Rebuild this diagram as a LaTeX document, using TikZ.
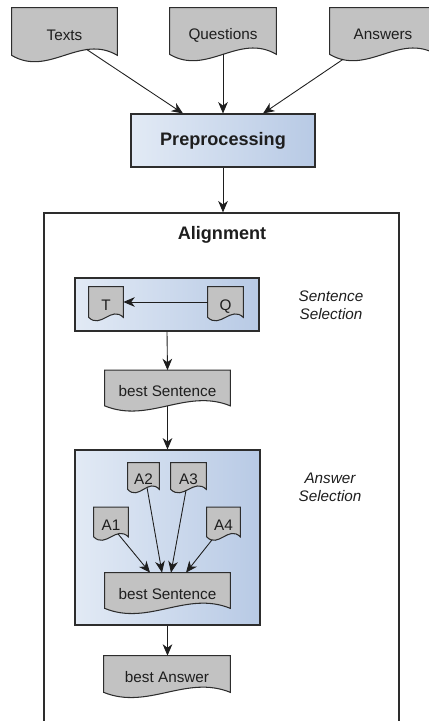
\documentclass[tikz,border=0pt]{standalone}
\usepackage{fontspec}
\setmainfont{Liberation Sans}
\usetikzlibrary{arrows.meta,calc,backgrounds}
\definecolor{docgray}{RGB}{194,194,194}
\definecolor{boxlight}{RGB}{226,234,245}
\definecolor{boxdark}{RGB}{184,202,229}
\definecolor{edge}{RGB}{45,45,45}
\definecolor{ink}{RGB}{30,30,30}
\pgfdeclarelayer{boxes}
\pgfsetlayers{boxes,background,main}
\newcommand{\px}{0.02cm}
\tikzset{
  doc/.style 2 args={minimum width=#1*\px, minimum height=#2*\px, inner sep=0pt,
    text height=10.2pt, text depth=0pt, text=ink, font=\fontsize{8.7}{10}\selectfont},
  docline/.style={fill=docgray, draw=edge, line width=0.6pt},
  gradbox/.style={draw=edge, line width=0.6pt, left color=boxlight, right color=boxdark,
    inner sep=0pt, text=ink, font=\fontsize{10.3}{12}\selectfont\bfseries},
  outerbox/.style={draw=edge, line width=0.7pt, fill=white, inner sep=0pt},
  note/.style={align=center, text=ink, font=\fontsize{8.7}{10.2}\selectfont\itshape},
  title/.style={text=ink, font=\fontsize{10.3}{12}\selectfont\bfseries},
  arr/.style={-{Stealth[length=6.5pt,width=5.5pt,inset=2pt]}, draw=ink, line width=0.5pt}
}

\begin{document}
\begin{tikzpicture}[x=\px,y=-\px]
\useasboundingbox (0,0) rectangle (429,721);

% frames
\begin{pgfonlayer}{boxes}
  \node[outerbox, minimum width=355*\px, minimum height=534*\px] (align) at (221.5,480) {};
  \node[gradbox, minimum width=184*\px, minimum height=53*\px] (prep) at (223,140.5) {Preprocessing};
  \node[gradbox, minimum width=184*\px, minimum height=53*\px] (sentsel) at (167,304.5) {};
  \node[gradbox, minimum width=185*\px, minimum height=175*\px] (anssel) at (167.5,537.5) {};
\end{pgfonlayer}

\node[title] (aligntitle) at (222,235) {Alignment};
\node[note] (sentlab) at (331,305) {Sentence\\Selection};
\node[note] (anslab) at (330,487.5) {Answer\\Selection};

% documents
\node[doc={105}{47}] (texts) at (64.5,31.5) {Texts};
\node[doc={106}{46}] (questions) at (223,31) {Questions};
\node[doc={106}{46}] (answers) at (383,31) {Answers};
\node[doc={34}{30}] (t) at (106,302) {T};
\node[doc={35}{30}] (q) at (225.5,302) {Q};
\node[doc={125}{35}] (best1) at (167.5,388) {best Sentence};
\node[doc={31}{26}] (a2) at (143.5,476) {A2};
\node[doc={35}{26}] (a3) at (188.5,476) {A3};
\node[doc={34}{29}] (a1) at (111,522) {A1};
\node[doc={33}{29}] (a4) at (223.5,522) {A4};
\node[doc={125}{35}] (best2) at (167.5,590.5) {best Sentence};
\node[doc={126}{36}] (bestans) at (167,674) {best Answer};

\begin{pgfonlayer}{background}
  \foreach \n/\c in {texts/22,questions/22,answers/22,t/12,q/12,best1/18,
                     a1/12,a2/12,a3/12,a4/12,best2/18,bestans/18}
    \draw[docline] (\n.north west) -- (\n.south west)
      .. controls ($(\n.south west)!0.35!(\n.south east)+(0,\c)$)
      and ($(\n.south west)!0.65!(\n.south east)+(0,-\c)$) .. (\n.south east)
      -- (\n.north east) -- cycle;
\end{pgfonlayer}

% connectors
\draw[arr] ($(texts.south)+(22,-6)$) -- ($(prep.north)+(-40,0)$);
\draw[arr] (questions.south) -- (prep.north);
\draw[arr] ($(answers.south)+(-40,5)$) -- ($(prep.north)+(40,0)$);
\draw[arr] (prep.south) -- (prep.south |- align.north);
\draw[arr] (q.west) -- (t.east);
\draw[arr] (sentsel.south) -- (best1.north);
\draw[arr] (best1.south) -- (anssel.north);
\draw[arr] ($(a1.south)+(7,-3)$) -- ($(best2.north)+(-17.5,0)$);
\draw[arr] ($(a2.south)+(3.5,-2)$) -- ($(best2.north)+(-5.5,0)$);
\draw[arr] ($(a3.south)+(-2.5,1)$) -- ($(best2.north)+(3.5,0)$);
\draw[arr] ($(a4.south)+(-11.5,3)$) -- ($(best2.north)+(18.5,0)$);
\draw[arr] (anssel.south) -- (anssel.south |- bestans.north);
\end{tikzpicture}
\end{document}
